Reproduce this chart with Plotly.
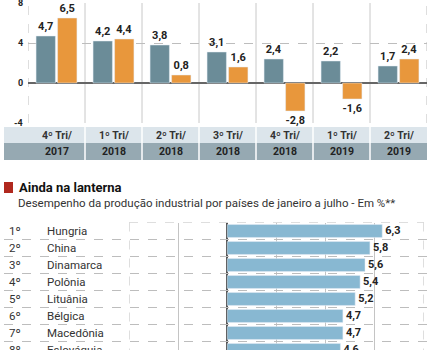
import plotly.graph_objects as go

W, H = 436, 350

# ---------------- data ----------------
quarters = ["4º Tri/", "1º Tri/", "2º Tri/", "3º Tri/", "4º Tri/", "1º Tri/", "2º Tri/"]
years = ["2017", "2018", "2018", "2018", "2018", "2019", "2019"]
serie_a = [4.7, 4.2, 3.8, 3.1, 2.4, 2.2, 1.7]
serie_b = [6.5, 4.4, 0.8, 1.6, -2.8, -1.6, 2.4]
y_ticks = [-4, 0, 4, 8]

ranks = ["1º", "2º", "3º", "4º", "5º", "6º", "7º", "8º"]
countries = ["Hungria", "China", "Dinamarca", "Polônia", "Lituânia", "Bélgica", "Macedônia", "Eslováquia"]
values = [6.3, 5.8, 5.6, 5.4, 5.2, 4.7, 4.7, 4.6]

title = "Ainda na lanterna"
subtitle = "Desempenho da produção industrial por países de janeiro a julho - Em %**"

# ---------------- style ----------------
FONT = "Roboto, Liberation Sans, DejaVu Sans"
TEAL = "#6b8c98"
ORANGE = "#e8973c"
LBLUE = "#88b8d2"
ROW1 = "#dce5eb"
ROW2 = "#96a9b2"
RED = "#b0281e"
TXT = "#222222"
GRID = "#bdbdbd"


def fmt(v):
    return f"{v:.1f}".replace(".", ",")


def px(x):
    return x / W


def py(y):
    return 1 - y / H


idx = list(range(len(quarters)))
ridx = list(range(len(countries)))

fig = go.Figure()
fig.add_trace(go.Bar(x=idx, y=serie_a, marker_color=TEAL, text=[fmt(v) for v in serie_a],
                     textposition="outside", textfont=dict(size=11, color=TXT, weight="bold"),
                     cliponaxis=False, showlegend=False, xaxis="x", yaxis="y"))
fig.add_trace(go.Bar(x=idx, y=serie_b, marker_color=ORANGE, text=[fmt(v) for v in serie_b],
                     textposition="outside", textfont=dict(size=11, color=TXT, weight="bold"),
                     cliponaxis=False, showlegend=False, xaxis="x", yaxis="y"))
fig.add_trace(go.Bar(x=values, y=ridx, orientation="h", marker_color=LBLUE, width=0.76,
                     text=[fmt(v) for v in values], textposition="outside",
                     textfont=dict(size=11, color=TXT, weight="bold"),
                     showlegend=False, xaxis="x2", yaxis="y2"))

shapes = []
# top chart frame & separators
for xv in [-0.5, 6.5]:
    shapes.append(dict(type="line", xref="x", yref="y", x0=xv, x1=xv, y0=-4, y1=8,
                       line=dict(color=GRID, width=1, dash="dash"), layer="below"))
for xv in [i + 0.5 for i in range(len(quarters) - 1)]:
    shapes.append(dict(type="line", xref="x", yref="y", x0=xv, x1=xv, y0=-4, y1=8,
                       line=dict(color="#c8c8c8", width=1), layer="below"))
# table
shapes.append(dict(type="rect", xref="paper", yref="paper", x0=px(4), x1=px(427), y0=py(143), y1=py(127),
                   fillcolor=ROW1, line=dict(width=0), layer="below"))
shapes.append(dict(type="rect", xref="paper", yref="paper", x0=px(4), x1=px(427), y0=py(160), y1=py(143),
                   fillcolor=ROW2, line=dict(width=0), layer="below"))
for xv in [i + 0.5 for i in range(len(quarters) - 1)]:
    shapes.append(dict(type="line", xref="x", yref="paper", x0=xv, x1=xv, y0=py(160), y1=py(127),
                       line=dict(color="white", width=1.5)))
# red square
shapes.append(dict(type="rect", xref="paper", yref="paper", x0=px(4), x1=px(13), y0=py(193), y1=py(182),
                   fillcolor=RED, line=dict(width=0)))
# bottom chart row lines
shapes.append(dict(type="line", xref="x2", yref="y2", x0=-4, x1=8, y0=-0.5, y1=-0.5,
                   line=dict(color=GRID, width=1, dash="dash")))
for k in range(len(countries) - 1):
    shapes.append(dict(type="line", xref="paper", yref="y2", x0=px(4), x1=px(428), y0=k + 0.5, y1=k + 0.5,
                       line=dict(color=GRID, width=1, dash="dash")))
for xv in [-4, 8]:
    shapes.append(dict(type="line", xref="x2", yref="y2", x0=xv, x1=xv, y0=-0.5, y1=8,
                       line=dict(color=GRID, width=1, dash="dash"), layer="below"))

annotations = []
for t in y_ticks:
    annotations.append(dict(x=px(24.5), y=t, xref="paper", yref="y", text=str(t), showarrow=False,
                            xanchor="right", yanchor="middle",
                            font=dict(family=FONT, size=9, color="#222", weight="bold")))
for i in idx:
    annotations.append(dict(x=i, y=py(135), xref="x", yref="paper", text=quarters[i], showarrow=False,
                            font=dict(family=FONT, size=10.5, color="#333", weight="bold")))
    annotations.append(dict(x=i, y=py(151.5), xref="x", yref="paper", text=years[i], showarrow=False,
                            font=dict(family=FONT, size=10.5, color="#222", weight="bold")))
annotations.append(dict(x=px(17), y=py(187.5), xref="paper", yref="paper", text=title, showarrow=False,
                        xanchor="left", yanchor="middle",
                        font=dict(family=FONT, size=13, color="#111", weight="bold")))
annotations.append(dict(x=px(16), y=py(203), xref="paper", yref="paper", text=subtitle, showarrow=False,
                        xanchor="left", yanchor="middle", font=dict(family=FONT, size=11.5, color="#333")))
for k in ridx:
    annotations.append(dict(x=px(7), y=k, xref="paper", yref="y2", text=ranks[k], showarrow=False,
                            xanchor="left", yanchor="middle", font=dict(family=FONT, size=11.5, color="#333")))
    annotations.append(dict(x=px(45), y=k, xref="paper", yref="y2", text=countries[k], showarrow=False,
                            xanchor="left", yanchor="middle", font=dict(family=FONT, size=11.5, color="#333")))

fig.update_layout(
    width=W, height=H, margin=dict(l=0, r=0, t=0, b=0),
    paper_bgcolor="white", plot_bgcolor="white",
    barmode="group", bargap=0.245, bargroupgap=0.1,
    font=dict(family=FONT, color=TXT),
    xaxis=dict(domain=[px(28), px(427)], range=[-0.5, 6.5], showticklabels=False, showgrid=False,
               zeroline=False, fixedrange=True),
    yaxis=dict(domain=[py(123), py(3)], range=[-4, 8], tickvals=y_ticks, showticklabels=False,
               showgrid=True, gridcolor=GRID, griddash="dash", gridwidth=1,
               zeroline=True, zerolinecolor="#666", zerolinewidth=2, ticks=""),
    xaxis2=dict(domain=[px(129), px(424)], range=[-4, 8], anchor="y2", tickvals=[-2, 0, 2, 4, 6],
                showticklabels=False, showgrid=True, gridcolor="#c4c4c4", gridwidth=1,
                zeroline=True, zerolinecolor="#555", zerolinewidth=1.5),
    yaxis2=dict(domain=[0, py(222.5)], range=[7.0, -0.5], anchor="x2", showticklabels=False,
                showgrid=False, zeroline=False),
    shapes=shapes, annotations=annotations,
)

fig.write_html("out.html")
